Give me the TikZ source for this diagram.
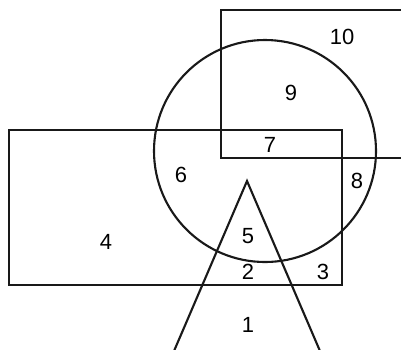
\documentclass[tikz,border=0pt]{standalone}
\usepackage{fontspec}
\setmainfont{Liberation Sans}
\usetikzlibrary{positioning}

\tikzset{
  venn/.style={draw=black!90,line width=1.2pt},
  region/.style={font=\fontsize{12.5}{14}\selectfont,inner sep=0pt}
}

\begin{document}
\begin{tikzpicture}[x=.02cm,y=-.02cm]
\useasboundingbox (0,0) rectangle (401,349);
\clip (0,0) rectangle (401,349);
\draw[venn] (221,10) rectangle (420,158);
\draw[venn] (265,151) circle[radius=111];
\draw[venn] (9,130) rectangle (342,285);
\draw[venn] (168,365) -- (247,181) -- (326,365);
\node[region] (r10) at (342,37) {10};
\node[region] (r9) at (291,93) {9};
\node[region] (r7) at (270,145) {7};
\node[region] (r6) at (181,175) {6};
\node[region] (r8) at (357,181) {8};
\node[region] (r5) at (248,236) {5};
\node[region] (r4) at (106,242) {4};
\node[region] (r2) at (248,272) {2};
\node[region] (r3) at (323,272) {3};
\node[region] (r1) at (248,325) {1};
\end{tikzpicture}
\end{document}
